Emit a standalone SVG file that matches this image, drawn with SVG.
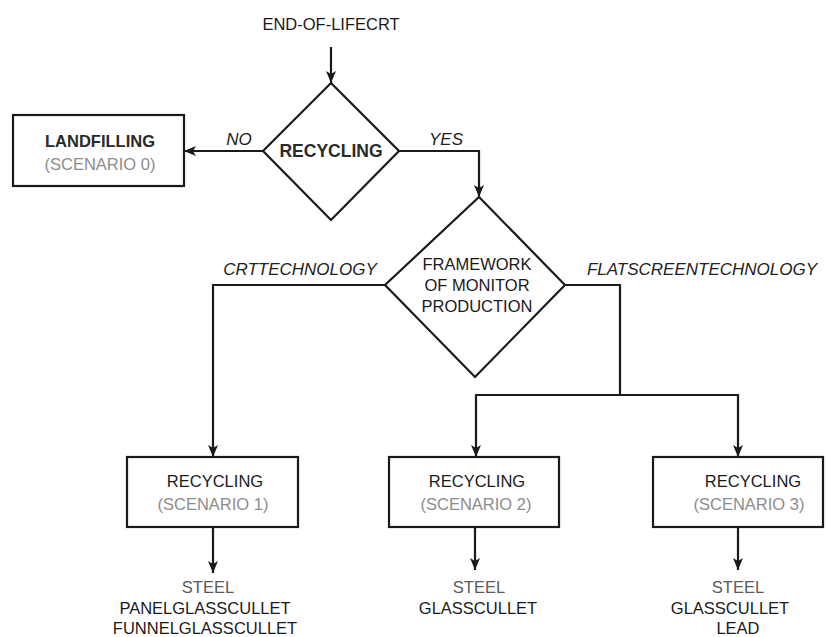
<svg xmlns="http://www.w3.org/2000/svg" width="826" height="637" viewBox="0 0 826 637">
<style>
  text { font-family: "Liberation Sans", Arial, sans-serif; fill: #1a1a1a; text-anchor: middle; }
  .t { font-size: 16.5px; }
  .b { font-size: 16.5px; font-weight: bold; fill: #2a2a2a; }
  .g { font-size: 16.5px; fill: #8c8c8c; }
  .st { font-size: 16.5px; fill: #5a5a5a; }
  .lbl { font-size: 17px; font-style: italic; fill: #222; }
  .shape { fill: #fff; stroke: #1a1a1a; stroke-width: 2.2; }
  .conn path { fill: none; stroke: #1a1a1a; stroke-width: 2.2; }
</style>
<defs>
  <marker id="ah" viewBox="0 0 12 10" markerWidth="12" markerHeight="10" refX="12" refY="5" orient="auto" markerUnits="userSpaceOnUse">
    <path d="M0,0 L12,5 L0,10 L3,5 z" fill="#1a1a1a"/>
  </marker>
</defs>
<rect width="826" height="637" fill="#fff"/>

<g id="connectors" class="conn">
  <path d="M331,47 V83" marker-end="url(#ah)"/>
  <path d="M263,151 H184" marker-end="url(#ah)"/>
  <path d="M399,151 H479 V197" marker-end="url(#ah)"/>
  <path d="M385,285 H213 V457" marker-end="url(#ah)"/>
  <path d="M565,285 H620 V395"/>
  <path d="M620,395 H476 V457" marker-end="url(#ah)"/>
  <path d="M620,395 H738 V457" marker-end="url(#ah)"/>
  <path d="M213,527 V573" marker-end="url(#ah)"/>
  <path d="M475,527 V570" marker-end="url(#ah)"/>
  <path d="M738,527 V570" marker-end="url(#ah)"/>
</g>

<g id="labels">
  <text class="lbl" x="239" y="145">NO</text>
  <text class="lbl" x="446" y="145">YES</text>
  <text class="lbl" x="300" y="275">CRTTECHNOLOGY</text>
  <text class="lbl" x="702" y="275">FLATSCREENTECHNOLOGY</text>
</g>

<g id="start">
  <text class="t" x="331" y="30">END-OF-LIFECRT</text>
</g>

<g id="recycling-decision">
  <polygon class="shape" points="331,83 399,151 331,220 263,151"/>
  <text class="b" x="331" y="157" style="font-size:17.5px">RECYCLING</text>
</g>

<g id="landfilling">
  <rect class="shape" x="13" y="115" width="171" height="71"/>
  <text class="b" x="100" y="147">LANDFILLING</text>
  <text class="g" x="100" y="170">(SCENARIO 0)</text>
</g>

<g id="framework-decision">
  <polygon class="shape" points="479,197 565,285 475,377 385,285"/>
  <text class="t" x="477" y="270">FRAMEWORK</text>
  <text class="t" x="477" y="291">OF MONITOR</text>
  <text class="t" x="477" y="312">PRODUCTION</text>
</g>

<g id="scenario1">
  <rect class="shape" x="127" y="457" width="171" height="70"/>
  <text class="t" x="215" y="487">RECYCLING</text>
  <text class="g" x="213" y="510">(SCENARIO 1)</text>
</g>

<g id="scenario2">
  <rect class="shape" x="389" y="457" width="170" height="70"/>
  <text class="t" x="477" y="487">RECYCLING</text>
  <text class="g" x="476" y="510">(SCENARIO 2)</text>
</g>

<g id="scenario3">
  <rect class="shape" x="653" y="457" width="170" height="70"/>
  <text class="t" x="753" y="487">RECYCLING</text>
  <text class="g" x="749" y="510">(SCENARIO 3)</text>
</g>

<g id="output1">
  <text class="st" x="208" y="593">STEEL</text>
  <text class="t" x="205" y="614">PANELGLASSCULLET</text>
  <text class="t" x="205" y="634">FUNNELGLASSCULLET</text>
</g>

<g id="output2">
  <text class="st" x="479" y="593">STEEL</text>
  <text class="t" x="478" y="614">GLASSCULLET</text>
</g>

<g id="output3">
  <text class="st" x="738" y="593">STEEL</text>
  <text class="t" x="730" y="614">GLASSCULLET</text>
  <text class="t" x="738" y="634">LEAD</text>
</g>
</svg>
